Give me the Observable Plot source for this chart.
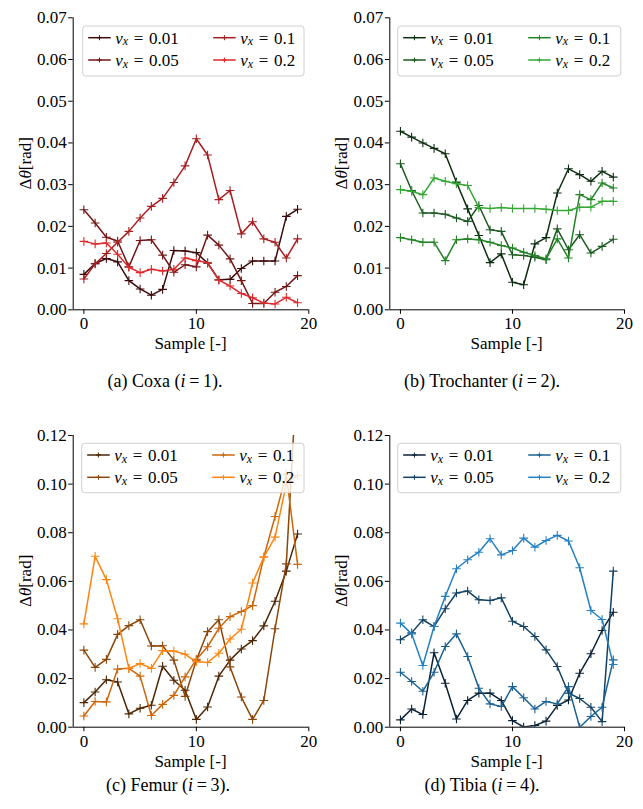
<!DOCTYPE html>
<html><head><meta charset="utf-8">
<script src="https://cdn.jsdelivr.net/npm/d3@7"></script>
<script src="https://cdn.jsdelivr.net/npm/@observablehq/plot@0.6"></script>
<style>
html,body{margin:0;padding:0;background:#fff;}
#root{position:relative;width:643px;height:809px;overflow:hidden;font-family:"Liberation Serif",serif;}
.panel{position:absolute;}
.cap{position:absolute;font-size:18px;white-space:nowrap;transform:translate(-50%,-50%);color:#000;font-family:"Liberation Serif",serif;}
</style></head><body><div id="root"></div>
<script>
// ---------- data ----------
const sample = [0,1,2,3,4,5,6,7,8,9,10,11,12,13,14,15,16,17,18,19];
const seriesLabels = ["0.01","0.05","0.1","0.2"];
const xTicks = [0,10,20];
const yTicksTop = [0,0.01,0.02,0.03,0.04,0.05,0.06,0.07];
const yTicksBottom = [0,0.02,0.04,0.06,0.08,0.10,0.12];

// (a) Coxa
const coxa001 = [0.0085,0.0111,0.0123,0.0115,0.0070,0.0050,0.0035,0.0049,0.0142,0.0141,0.0137,0.0112,0.0072,0.0073,0.0099,0.0117,0.0117,0.0117,0.0224,0.0241];
const coxa005 = [0.0240,0.0208,0.0174,0.0165,0.0103,0.0166,0.0168,0.0131,0.0090,0.0108,0.0103,0.0179,0.0155,0.0122,0.0070,0.0015,0.0015,0.0042,0.0056,0.0082];
const coxa01  = [0.0074,0.0110,0.0135,0.0162,0.0188,0.0220,0.0248,0.0267,0.0305,0.0345,0.0410,0.0371,0.0264,0.0286,0.0182,0.0211,0.0170,0.0162,0.0124,0.0170];
const coxa02  = [0.0164,0.0158,0.0160,0.0133,0.0102,0.0089,0.0097,0.0093,0.0097,0.0124,0.0118,0.0113,0.0071,0.0057,0.0039,0.0029,0.0016,0.0014,0.0030,0.0017];

// (b) Trochanter
const troch001 = [0.0428,0.0414,0.0400,0.0387,0.0374,0.0306,0.0242,0.0178,0.0113,0.0134,0.0066,0.0060,0.0158,0.0173,0.0280,0.0338,0.0324,0.0308,0.0332,0.0318];
const troch005 = [0.0350,0.0286,0.0232,0.0232,0.0229,0.0220,0.0212,0.0250,0.0192,0.0188,0.0132,0.0130,0.0126,0.0120,0.0194,0.0144,0.0180,0.0136,0.0152,0.0169];
const troch01  = [0.0173,0.0168,0.0162,0.0162,0.0118,0.0168,0.0170,0.0168,0.0162,0.0154,0.0148,0.0138,0.0130,0.0122,0.0170,0.0124,0.0276,0.0264,0.0304,0.0292];
const troch02  = [0.0288,0.0284,0.0276,0.0316,0.0308,0.0302,0.0298,0.0245,0.0243,0.0245,0.0243,0.0243,0.0243,0.0241,0.0238,0.0238,0.0246,0.0246,0.0260,0.0260];

// (c) Femur
const femur001 = [0.0101,0.0145,0.0195,0.0186,0.0055,0.0078,0.0090,0.0251,0.0193,0.0152,0.0032,0.0083,0.0210,0.0276,0.0322,0.0356,0.0417,0.0518,0.0642,0.0795];
const femur005 = [0.0317,0.0246,0.0279,0.0382,0.0418,0.0442,0.0334,0.0335,0.0276,0.0127,0.0276,0.0393,0.0442,0.0248,0.0124,0.0032,0.0110,0.0405,0.0672,0.1500];
const femur01  = [0.0046,0.0106,0.0104,0.0239,0.0242,0.0210,0.0048,0.0094,0.0131,0.0207,0.0279,0.0331,0.0407,0.0455,0.0476,0.0500,0.0700,0.0867,0.1040,0.0670];
const femur02  = [0.0425,0.0703,0.0607,0.0446,0.0242,0.0262,0.0242,0.0315,0.0313,0.0300,0.0269,0.0266,0.0304,0.0363,0.0403,0.0593,0.0700,0.0782,0.1001,0.1036];

// (d) Tibia
const tibia001 = [0.0030,0.0075,0.0052,0.0306,0.0181,0.0034,0.0110,0.0140,0.0140,0.0110,0.0027,0.0001,0.0007,0.0025,0.0089,0.0112,0.0222,0.0302,0.0398,0.0473];
const tibia005 = [0.0360,0.0388,0.0442,0.0414,0.0487,0.0552,0.0560,0.0524,0.0521,0.0532,0.0436,0.0414,0.0373,0.0318,0.0250,0.0140,0.0118,0.0082,0.0023,0.0642];
const tibia01  = [0.0226,0.0188,0.0148,0.0226,0.0332,0.0384,0.0291,0.0160,0.0096,0.0085,0.0167,0.0121,0.0075,0.0106,0.0096,0.0167,0.0000,0.0044,0.0082,0.0277];
const tibia02  = [0.0428,0.0384,0.0254,0.0414,0.0538,0.0652,0.0689,0.0720,0.0775,0.0709,0.0727,0.0778,0.0741,0.0768,0.0789,0.0766,0.0656,0.0480,0.0443,0.0258];

const redShades    = ["#3c0b0b","#741616","#a81e20","#dc2a2c"];
const greenShades  = ["#0d2e10","#1b5a20","#238426","#33a833"];
const orangeShades = ["#4d2604","#8c4608","#cc660b","#ff840f"];
const blueShades   = ["#0a2236","#134264","#1b6193","#2480c2"];

// ---------- drawing ----------
const FONT = "Liberation Serif";
const xDomain = [-0.95, 20];
const plusSymbol = {
  draw(context, size) {
    const r = Math.sqrt(size / Math.PI);
    context.moveTo(-r, 0); context.lineTo(r, 0);
    context.moveTo(0, -r); context.lineTo(0, r);
  }
};

const panels = [
  {left:0, top:0, width:321, height:360, mL:72.7, mR:12.7, mT:17.3, mB:50.7, yMax:0.07, yTicks:yTicksTop,
   values:[coxa001,coxa005,coxa01,coxa02], colors:redShades,
   legend:{x:82.7,y:26,w:221.3,h:50}, yLabelX:25, xLabelY:343.3,
   capPre:"(a) Coxa (", capNum:"1", capX:165, capY:381},
  {left:320, top:0, width:323, height:360, mL:69.3, mR:19, mT:17.3, mB:50.7, yMax:0.07, yTicks:yTicksTop,
   values:[troch001,troch005,troch01,troch02], colors:greenShades,
   legend:{x:77.7,y:26,w:223,h:50}, yLabelX:20.7, xLabelY:343.3,
   capPre:"(b) Trochanter (", capNum:"2", capX:482, capY:381},
  {left:0, top:420, width:321, height:360, mL:72.7, mR:12.7, mT:15, mB:53.3, yMax:0.12, yTicks:yTicksBottom,
   values:[femur001,femur005,femur01,femur02], colors:orangeShades,
   legend:{x:81.7,y:23.3,w:222.3,h:49.4}, yLabelX:25, xLabelY:341.7,
   capPre:"(c) Femur (", capNum:"3", capX:168, capY:785},
  {left:320, top:420, width:323, height:360, mL:69.3, mR:19, mT:15, mB:53.3, yMax:0.12, yTicks:yTicksBottom,
   values:[tibia001,tibia005,tibia01,tibia02], colors:blueShades,
   legend:{x:77.7,y:23.3,w:223,h:49.4}, yLabelX:20.7, xLabelY:341.7,
   capPre:"(d) Tibia (", capNum:"4", capX:482, capY:785}
];

const root = document.getElementById("root");

panels.forEach(p => {
  const marks = [
    Plot.ruleX([xDomain[0]], {y1: 0, y2: p.yMax, stroke: "#000", strokeWidth: 1}),
    Plot.ruleY([0], {x1: xDomain[0], x2: xDomain[1], stroke: "#000", strokeWidth: 1}),
    Plot.axisX({ticks: xTicks, tickSize: 4.5, tickPadding: 3, label: null, tickFormat: d => String(d)}),
    Plot.axisY({ticks: p.yTicks, tickSize: 4.5, tickPadding: 2, label: null, tickFormat: d3.format(".2f")})
  ];
  p.values.forEach((arr, k) => {
    const rows = sample.map((s, i) => ({s, v: arr[i], series: seriesLabels[k]}));
    marks.push(Plot.line(rows, {x: "s", y: "v", stroke: "series", strokeWidth: 1.5, clip: true}));
    marks.push(Plot.dot(rows, {x: "s", y: "v", symbol: plusSymbol, r: 4.3, stroke: "series", fill: "none", strokeWidth: 1.1, clip: true}));
  });

  const svgEl = Plot.plot({
    width: p.width, height: p.height,
    marginLeft: p.mL, marginRight: p.mR, marginTop: p.mT, marginBottom: p.mB,
    x: {domain: xDomain},
    y: {domain: [0, p.yMax]},
    color: {domain: seriesLabels, range: p.colors},
    marks
  });
  svgEl.setAttribute("font-family", FONT);
  svgEl.setAttribute("font-size", "17");
  svgEl.style.background = "transparent";

  const wrap = document.createElement("div");
  wrap.className = "panel";
  wrap.style.left = p.left + "px";
  wrap.style.top = p.top + "px";
  wrap.appendChild(svgEl);
  root.appendChild(wrap);

  const svg = d3.select(svgEl);

  // y label
  const cy = (p.mT + p.height - p.mB) / 2;
  const yl = svg.append("text")
    .attr("transform", `translate(${p.yLabelX},${cy}) rotate(-90)`)
    .attr("text-anchor", "middle").attr("dominant-baseline", "central")
    .attr("font-size", 17).attr("fill", "#000");
  yl.append("tspan").text("Δ");
  yl.append("tspan").attr("font-style", "italic").text("θ");
  yl.append("tspan").text("[rad]");

  // x label
  svg.append("text")
    .attr("x", (p.mL + p.width - p.mR) / 2).attr("y", p.xLabelY)
    .attr("text-anchor", "middle").attr("dominant-baseline", "central")
    .attr("font-size", 17).attr("fill", "#000")
    .text("Sample [-]");

  // legend
  const L = p.legend;
  const g = svg.append("g").attr("text-anchor", "start");
  g.append("rect").attr("x", L.x).attr("y", L.y).attr("width", L.w).attr("height", L.h)
    .attr("rx", 3).attr("fill", "#fff").attr("fill-opacity", 0.8)
    .attr("stroke", "#d0d0d0").attr("stroke-width", 1);
  seriesLabels.forEach((lab, k) => {
    const col = Math.floor(k / 2), row = k % 2;
    const x0 = L.x + 5.5 + col * 125;
    const yy = L.y + 11.7 + row * 22.3;
    g.append("line").attr("x1", x0).attr("x2", x0 + 22.5).attr("y1", yy).attr("y2", yy)
      .attr("stroke", p.colors[k]).attr("stroke-width", 1.5);
    g.append("path").attr("d", `M${x0 + 11.25 - 2.5},${yy}h5M${x0 + 11.25},${yy - 2.5}v5`)
      .attr("stroke", p.colors[k]).attr("stroke-width", 1);
    const t = g.append("text").attr("x", x0 + 27).attr("y", yy)
      .attr("text-anchor", "start")
      .attr("dominant-baseline", "central").attr("font-size", 17).attr("fill", "#000");
    t.append("tspan").attr("font-style", "italic").text("v");
    t.append("tspan").attr("font-style", "italic").attr("font-size", 12).attr("dy", 3.5).text("x");
    t.append("tspan").attr("dy", -3.5).text("\u2004=\u2004" + lab);
  });

  svg.selectAll("text, tspan")
    .attr("font-family", FONT)
    .style("font-family", FONT);

  // caption
  const cap = document.createElement("div");
  cap.className = "cap";
  cap.style.left = p.capX + "px";
  cap.style.top = p.capY + "px";
  cap.innerHTML = p.capPre + "<i>i</i>&#8201;=&#8201;" + p.capNum + ").";
  root.appendChild(cap);
});
</script>
</body></html>
